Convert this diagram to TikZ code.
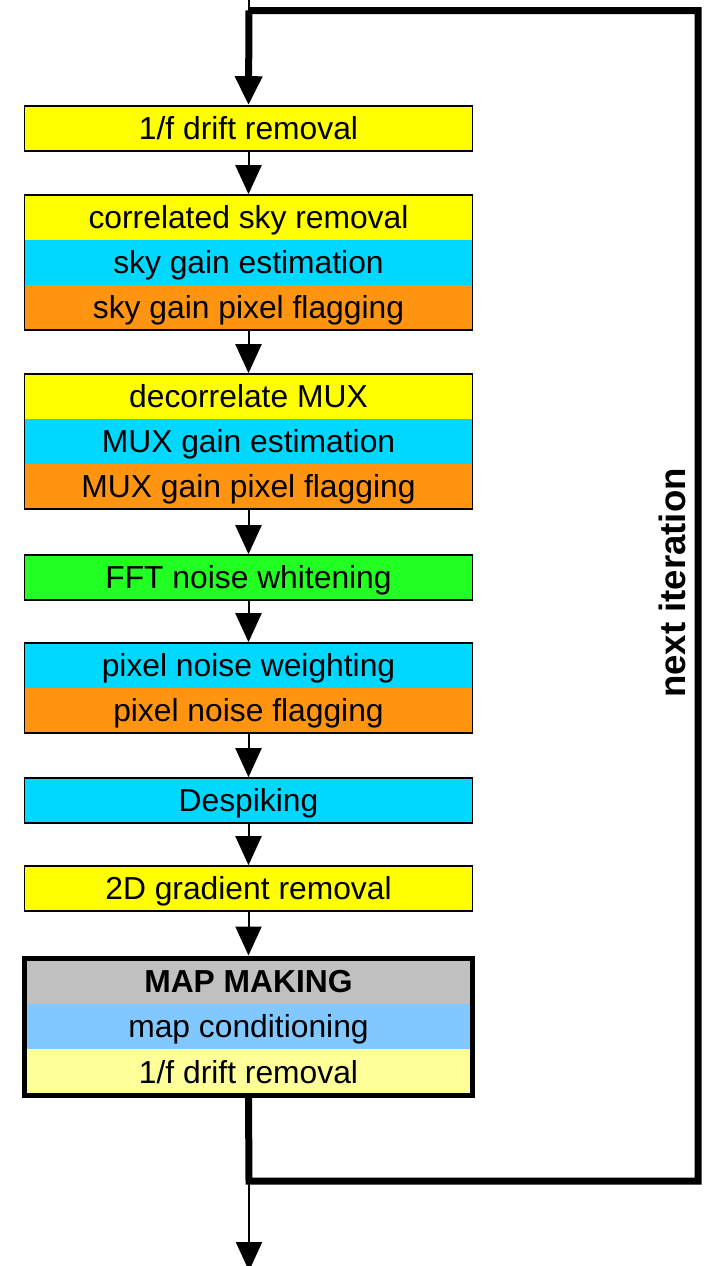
\documentclass[tikz,border=0pt]{standalone}
\usepackage{fontspec}
\setmainfont{Liberation Sans}
\usetikzlibrary{arrows.meta,fit}
\definecolor{cyel}{RGB}{255,255,0}
\definecolor{ccyn}{RGB}{0,216,255}
\definecolor{corg}{RGB}{255,148,17}
\definecolor{cgrn}{RGB}{34,255,34}
\definecolor{cgry}{RGB}{192,192,192}
\definecolor{clbl}{RGB}{128,200,255}
\definecolor{clyl}{RGB}{255,255,153}
\begin{document}
\begin{tikzpicture}[x=1pt,y=-1pt,
  band/.style={minimum width=448pt, minimum height=45pt, inner sep=0pt, outer sep=0pt,
    anchor=north, text height=22pt, text depth=0pt, font=\fontsize{31.8}{36}\selectfont},
  frame/.style={draw=black, line width=1.6pt, inner sep=0pt},
  bigframe/.style={draw=black, line width=5pt, inner sep=0pt},
  flow/.style={line width=2pt, -{Triangle[width=26pt,length=29pt]}},
  bigflow/.style={line width=7pt, -{Triangle[width=26pt,length=29pt]}},
  loopline/.style={line width=7pt, line join=miter},
]
\useasboundingbox (0,0) rectangle (707,1266);
% box 1
\node[band, fill=cyel] (b1) at (248.5,106) {1/f drift removal};
\node[frame, fit=(b1)] (f1) {};
% box 2
\node[band, fill=cyel] (b2a) at (248.5,195) {correlated sky removal};
\node[band, fill=ccyn] (b2b) at (b2a.south) {sky gain estimation};
\node[band, fill=corg] (b2c) at (b2b.south) {sky gain pixel flagging};
\node[frame, fit=(b2a)(b2c)] (f2) {};
% box 3
\node[band, fill=cyel] (b3a) at (248.5,374) {decorrelate MUX};
\node[band, fill=ccyn] (b3b) at (b3a.south) {MUX gain estimation};
\node[band, fill=corg] (b3c) at (b3b.south) {MUX gain pixel flagging};
\node[frame, fit=(b3a)(b3c)] (f3) {};
% box 4
\node[band, fill=cgrn] (b4) at (248.5,555) {FFT noise whitening};
\node[frame, fit=(b4)] (f4) {};
% box 5
\node[band, fill=ccyn] (b5a) at (248.5,643) {pixel noise weighting};
\node[band, fill=corg] (b5b) at (b5a.south) {pixel noise flagging};
\node[frame, fit=(b5a)(b5b)] (f5) {};
% box 6
\node[band, fill=ccyn] (b6) at (248.5,778) {Despiking};
\node[frame, fit=(b6)] (f6) {};
% box 7
\node[band, fill=cyel] (b7) at (248.5,866) {2D gradient removal};
\node[frame, fit=(b7)] (f7) {};
% box 8
\node[band, fill=cgry, minimum height=46pt, font=\bfseries\fontsize{31.8}{36}\selectfont] (b8a) at (248.5,958) {MAP MAKING};
\node[band, fill=clbl] (b8b) at (b8a.south) {map conditioning};
\node[band, fill=clyl, minimum height=46pt] (b8c) at (b8b.south) {1/f drift removal};
\node[bigframe, fit=(b8a)(b8c)] (f8) {};
% connectors
\coordinate (top) at (249,0);
\coordinate (jt) at (249,10.5);
\coordinate (ctr) at (698,10.5);
\coordinate (cbr) at (698,1181);
\coordinate (jb) at (249,1181);
\coordinate (bot) at (249,1271);
\draw[line width=2pt] (top) -- (jt);
\draw[bigflow] (jt) -- (f1.north);
\draw[flow] (f1.south) -- (f2.north);
\draw[flow] (f2.south) -- (f3.north);
\draw[flow] (f3.south) -- (f4.north);
\draw[flow] (f4.south) -- (f5.north);
\draw[flow] (f5.south) -- (f6.north);
\draw[flow] (f6.south) -- (f7.north);
\draw[flow] (f7.south) -- (f8.north);
\draw[loopline] (f8.south) -- (jb) -- (cbr) -- (ctr) -- (jt);
\draw[flow] (jb) -- (bot);
\node[rotate=90, font=\bfseries\fontsize{36.6}{42}\selectfont] (lbl) at (672,583) {next iteration};
\end{tikzpicture}
\end{document}
